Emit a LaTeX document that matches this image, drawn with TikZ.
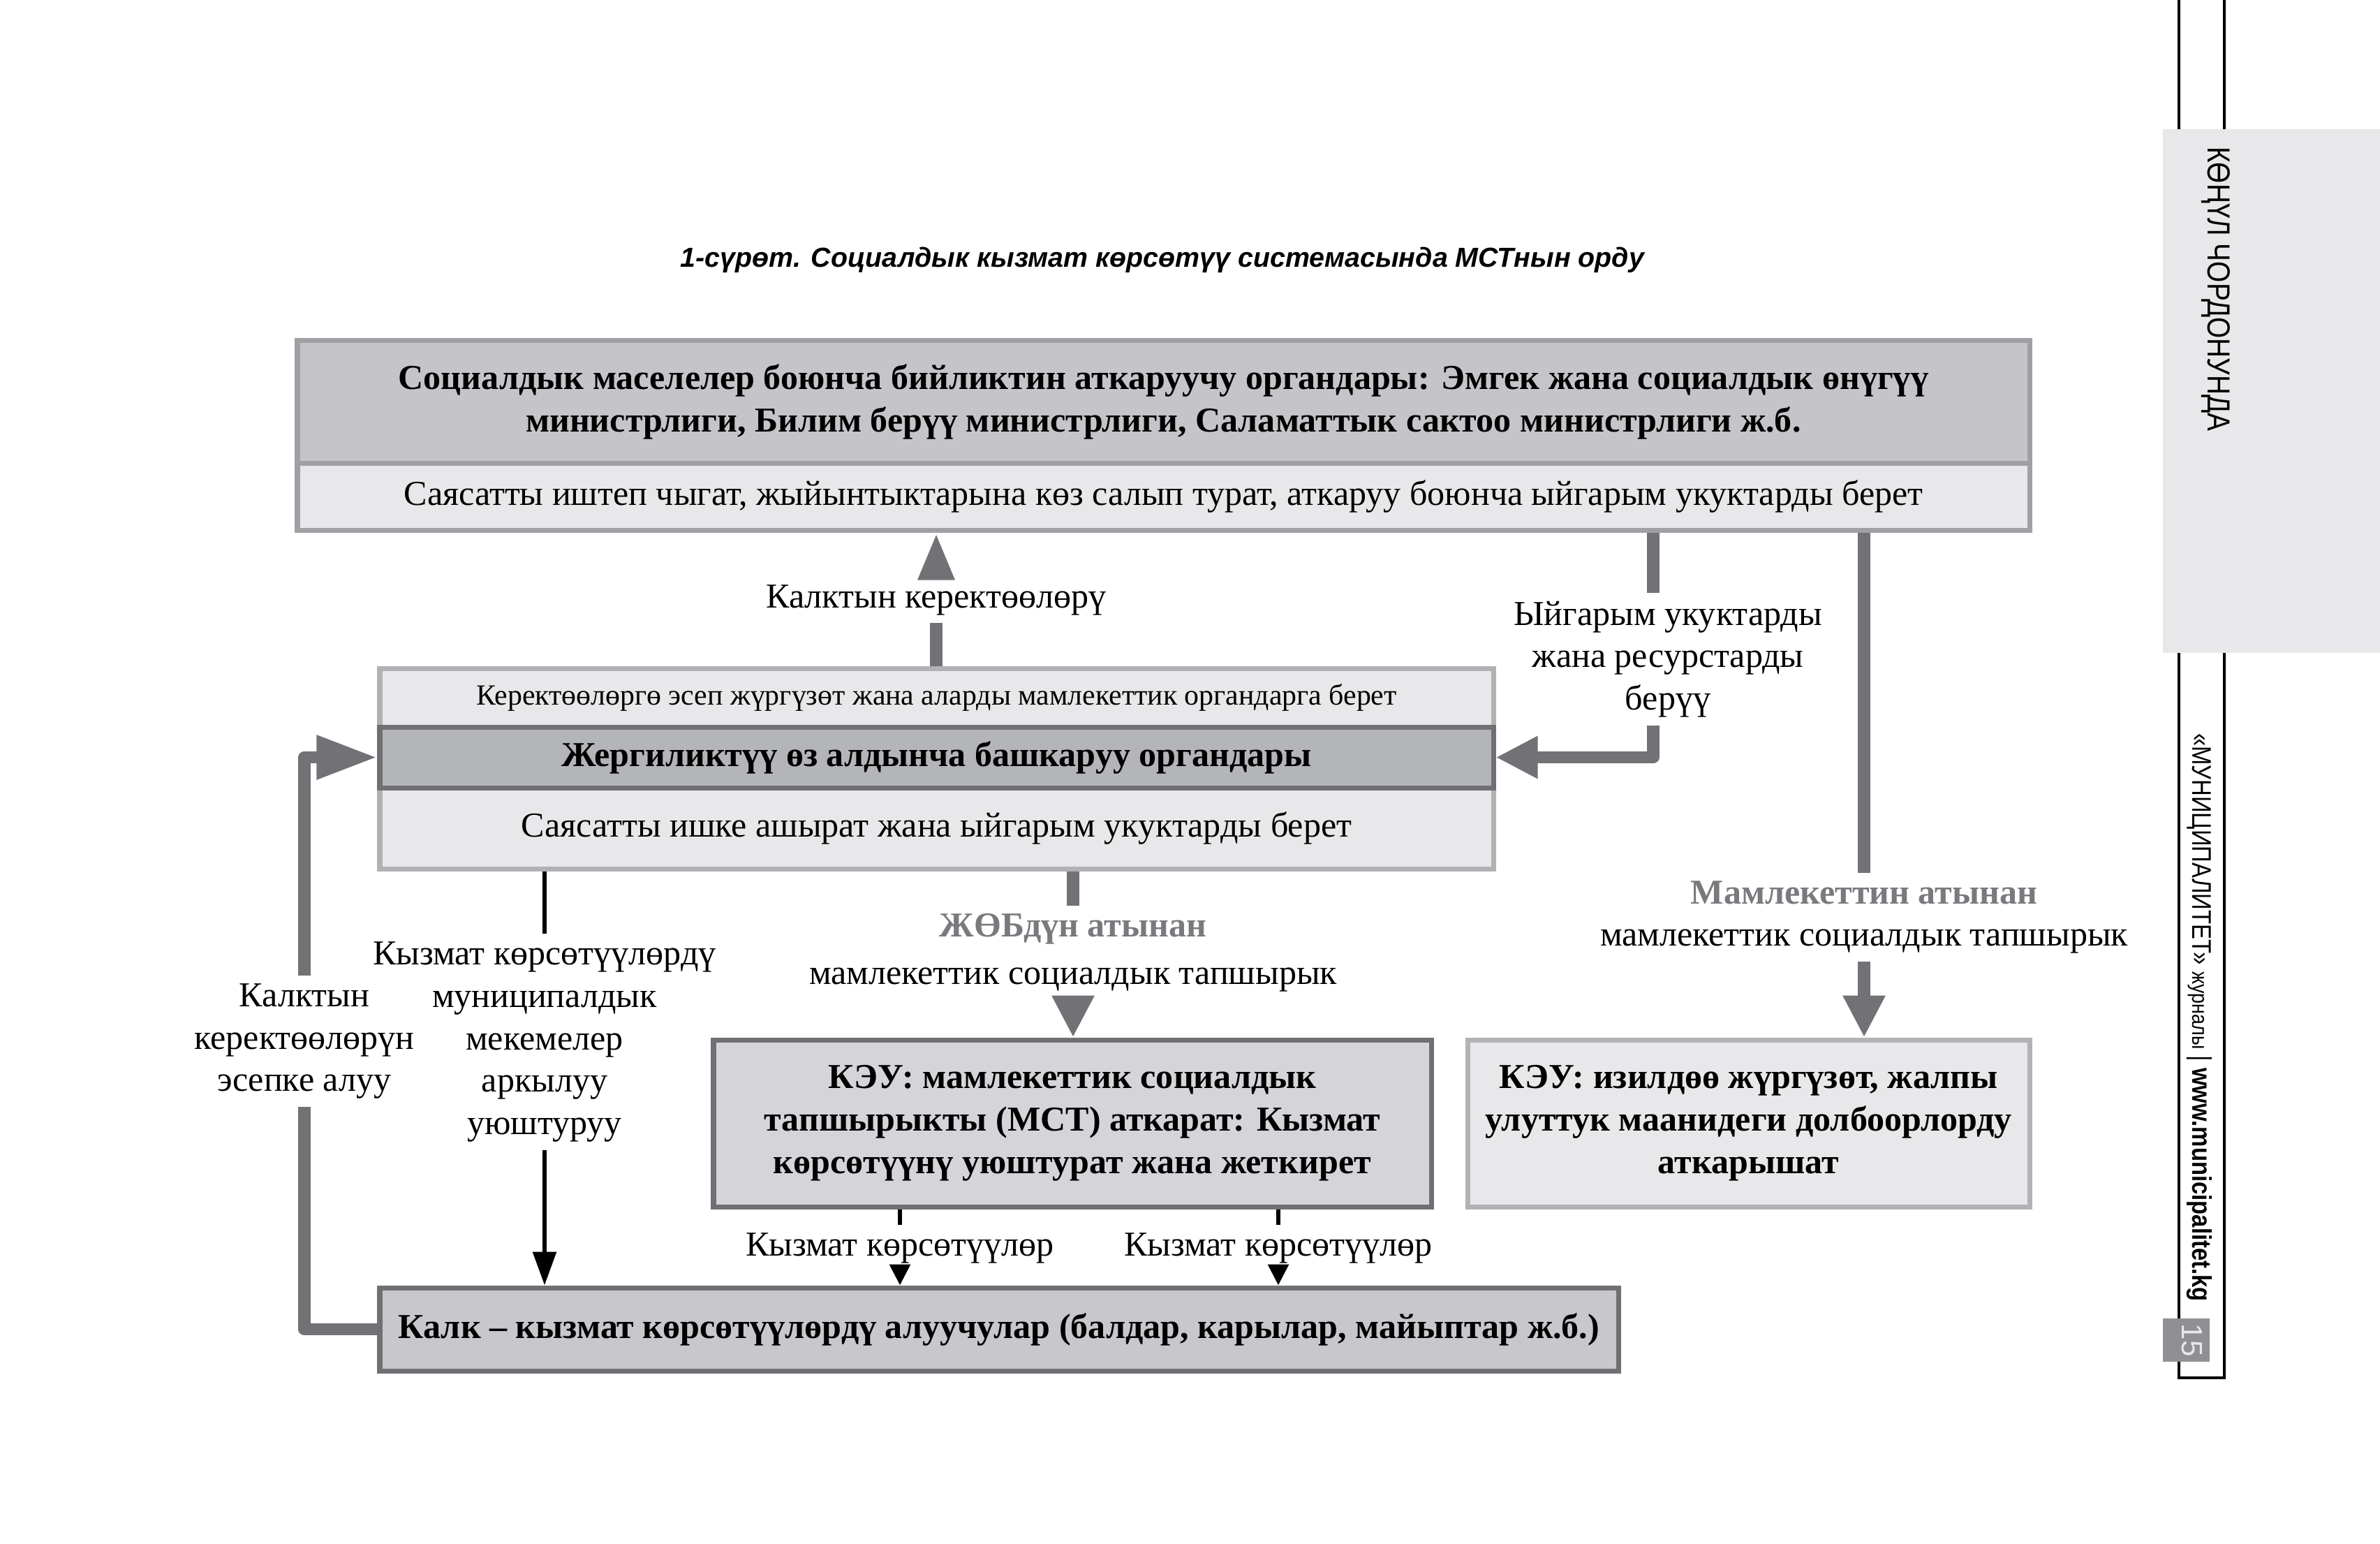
\documentclass[tikz,border=0pt]{standalone}
\usepackage{fontspec}
\usepackage{graphicx}
\setmainfont{Liberation Serif}
\newfontfamily\capfont{Liberation Sans}
\usetikzlibrary{arrows.meta}

\definecolor{topfill}{HTML}{C5C5C9}
\definecolor{lightfill}{HTML}{E8E8EA}
\definecolor{midfill}{HTML}{B4B5B8}
\definecolor{keufill}{HTML}{D5D5D9}
\definecolor{kalkfill}{HTML}{C8C8CC}
\definecolor{lightline}{HTML}{B2B2B6}
\definecolor{midline}{HTML}{A0A0A4}
\definecolor{darkline}{HTML}{707074}
\definecolor{arrowgray}{HTML}{727276}
\definecolor{labelgray}{HTML}{7A7A7E}
\definecolor{pagegray}{HTML}{909094}

\begin{document}
\begin{tikzpicture}
	[every node/.style={font=\fontsize{14.25}{17.3}\selectfont,align=center,inner sep=3pt},
	box/.style={draw=#1,line width=2pt,inner sep=0pt},
	boldbox/.style={font=\bfseries\fontsize{14.25}{17.3}\selectfont},
	gline/.style={draw=arrowgray,line width=5pt,line join=round},
	garrow/.style={gline,-{Triangle[length=0.6cm,width=0.57cm]}},
	bline/.style={draw=black,line width=1.7pt},
	barrow/.style={bline,-{Triangle[length=0.3cm,width=0.29cm]}}]
	\useasboundingbox (0,0) rectangle (34.09,-22.10);

	% sidebar
	\draw[black,line width=1pt] (31.21,0.2) -- (31.21,-19.73) -- (31.86,-19.73) -- (31.86,0.2);
	\fill[lightfill] (30.98,-1.85) rectangle (34.09,-9.35);
	\fill[pagegray] (30.98,-18.88) rectangle (31.65,-19.50);
	\node[rotate=-90,font=\capfont\fontsize{13}{15}\selectfont] (rubric) at (31.74,-4.14) {\scalebox{0.85}[1]{КӨҢҮЛ ЧОРДОНУНДА}};
	\node[rotate=-90,font=\capfont\fontsize{11}{13}\selectfont] (journal) at (31.50,-14.57)
		{\scalebox{0.85}[1]{«МУНИЦИПАЛИТЕТ» {\fontsize{9}{11}\selectfont журналы} | \textbf{www.municipalitet.kg}}};
	\node[rotate=-90,text=lightfill,font=\capfont\fontsize{12}{14}\selectfont] (page) at (31.40,-19.19) {15};

	% title
	\node[font=\capfont\bfseries\itshape\fontsize{11.2}{13}\selectfont] (title) at (16.65,-3.72)
		{1-сүрөт. Социалдык кызмат көрсөтүү системасында МСТнын орду};

	% boxes
	\node[box=midline,fill=topfill,minimum width=24.81cm,minimum height=1.76cm,boldbox] (topA) at (16.665,-5.75)
		{Социалдык маселелер боюнча бийликтин аткаруучу органдары: Эмгек жана социалдык өнүгүү\\министрлиги, Билим берүү министрлиги, Саламаттык сактоо министрлиги ж.б.};
	\node[box=midline,fill=lightfill,minimum width=24.81cm,minimum height=0.96cm] (topB) at (16.665,-7.11)
		{Саясатты иштеп чыгат, жыйынтыктарына көз салып турат, аткаруу боюнча ыйгарым укуктарды берет};

	\node[box=lightline,fill=lightfill,minimum width=15.95cm,minimum height=0.84cm,font=\fontsize{11.9}{14}\selectfont] (midA) at (13.415,-9.99)
		{Керектөөлөргө эсеп жүргүзөт жана аларды мамлекеттик органдарга берет};
	\node[box=lightline,fill=lightfill,minimum width=15.95cm,minimum height=1.16cm] (midC) at (13.415,-11.86)
		{Саясатты ишке ашырат жана ыйгарым укуктарды берет};
	\node[box=darkline,fill=midfill,minimum width=15.95cm,minimum height=0.87cm,boldbox] (midB) at (13.415,-10.845)
		{Жергиликтүү өз алдынча башкаруу органдары};

	\node[box=darkline,fill=keufill,minimum width=10.28cm,minimum height=2.39cm,boldbox] (keu1) at (15.36,-16.085)
		{КЭУ: мамлекеттик социалдык\\тапшырыкты (МСТ) аткарат: Кызмат\\көрсөтүүнү уюштурат жана жеткирет};
	\node[box=lightline,fill=lightfill,minimum width=8.05cm,minimum height=2.39cm,boldbox] (keu2) at (25.045,-16.085)
		{КЭУ: изилдөө жүргүзөт, жалпы\\улуттук маанидеги долбоорлорду\\аткарышат};

	\node[box=darkline,fill=kalkfill,minimum width=17.74cm,minimum height=1.19cm,boldbox] (kalk) at (14.31,-19.035)
		{Калк – кызмат көрсөтүүлөрдү алуучулар (балдар, карылар, майыптар ж.б.)};

	% labels
	\node (needs) at (13.41,-8.59) {Калктын керектөөлөрү};
	\node (powers) at (23.89,-9.44) {Ыйгарым укуктарды\\жана ресурстарды\\берүү};
	\node (state) at (26.70,-13.135) {\textcolor{labelgray}{\textbf{Мамлекеттин атынан}}\\мамлекеттик социалдык тапшырык};
	\node (lsg) at (15.37,-13.645) {\textcolor{labelgray}{\textbf{ЖӨБдүн атынан}}\\[2pt]мамлекеттик социалдык тапшырык};
	\node (account) at (4.36,-14.91) {Калктын\\керектөөлөрүн\\эсепке алуу};
	\node (munic) at (7.80,-14.92) {Кызмат көрсөтүүлөрдү\\муниципалдык\\мекемелер\\аркылуу\\уюштуруу};
	\node (serv1) at (12.89,-17.87) {Кызмат көрсөтүүлөр};
	\node (serv2) at (18.31,-17.87) {Кызмат көрсөтүүлөр};

	% connectors
	\draw[gline] (needs.south) -- (needs |- midA.north);
	\draw[gline,-{Triangle[length=0.68cm,width=0.48cm]}] (needs.north) -- (needs |- topB.south);
	\draw[gline] ([xshift=-2.1mm]powers.north |- topB.south) -- ([xshift=-2.1mm]powers.north);
	\draw[garrow] ([xshift=-2.1mm]powers.south) |- (midB.east);
	\draw[gline] (state |- topB.south) -- (state.north);
	\draw[garrow] (state.south) -- (state |- keu2.north);
	\draw[gline] (lsg |- midC.south) -- (lsg.north);
	\draw[garrow] (lsg.south) -- (lsg |- keu1.north);
	\draw[gline] (kalk.west) -| (account.south);
	\draw[gline,-{Triangle[length=0.87cm,width=0.59cm]}] (account.north) |- (midB.west);
	\draw[bline] (munic |- midC.south) -- (munic.north);
	\draw[bline,-{Triangle[length=0.48cm,width=0.33cm]}] (munic.south) -- (munic |- kalk.north);
	\foreach \srv in {serv1,serv2}
	{
		\draw[bline] (\srv |- keu1.south) -- (\srv.north);
		\draw[barrow] (\srv.south) -- (\srv |- kalk.north);
	}
\end{tikzpicture}
\end{document}
